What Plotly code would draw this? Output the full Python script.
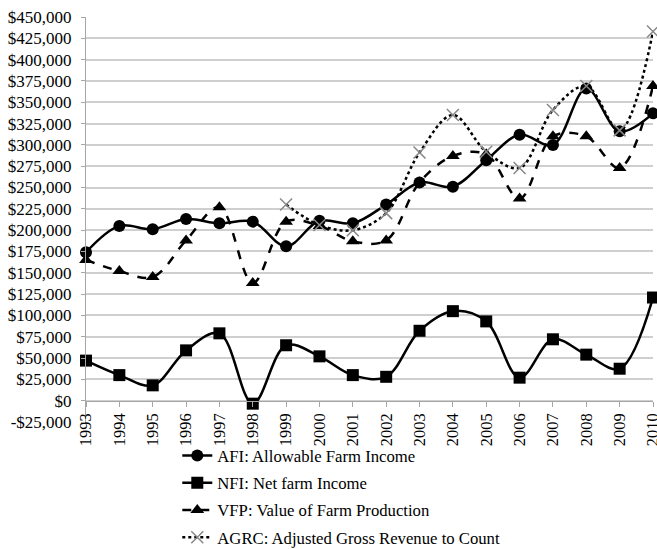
import plotly.graph_objects as go

years = list(range(1993, 2011))
afi = [174000, 205000, 201000, 213000, 208000, 210000, 181000, 211000, 208000, 230000,
       256000, 251000, 282000, 312000, 300000, 366000, 316000, 337000]
nfi = [47000, 30000, 18000, 59000, 79000, -3500, 65000, 52000, 30000, 28000,
       82000, 105000, 93000, 27000, 72000, 54000, 37500, 121000]
vfp = [165000, 152000, 145000, 188000, 227000, 138000, 210000, 205000, 187000, 188000,
       256000, 287000, 289000, 237000, 310000, 310000, 273000, 369000]
agrc = [None, None, None, None, None, None, 230000, 206000, 200000, 220000,
        291000, 335000, 292000, 273000, 341000, 369000, 317000, 433000]

names = ["AFI: Allowable Farm Income", "NFI: Net farm Income",
         "VFP: Value of Farm Production", "AGRC: Adjusted Gross Revenue to Count"]

ytick_vals = list(range(-25000, 450001, 25000))
ytick_text = [("-$" if v < 0 else "$") + f"{abs(v):,}" for v in ytick_vals]

FONT = "Liberation Serif"

fig = go.Figure()
fig.add_trace(go.Scatter(x=years, y=afi, name=names[0], mode="lines+markers",
                         line=dict(color="black", width=2.5, shape="spline"),
                         marker=dict(symbol="circle", size=12, color="black"),
                         cliponaxis=False, legendgroup="a"))
fig.add_trace(go.Scatter(x=years, y=nfi, name=names[1], mode="lines+markers",
                         line=dict(color="black", width=2.5, shape="spline"),
                         marker=dict(symbol="square", size=12, color="black"),
                         cliponaxis=False, legendgroup="b"))
fig.add_trace(go.Scatter(x=years, y=vfp, name=names[2], mode="lines+markers",
                         line=dict(color="black", width=2.5, shape="spline", dash="dash"),
                         marker=dict(symbol="triangle-up", size=12, color="black"),
                         cliponaxis=False, legendgroup="c"))
fig.add_trace(go.Scatter(x=years, y=agrc, name=names[3], mode="lines+markers",
                         line=dict(color="black", width=2.5, shape="spline", dash="dot"),
                         marker=dict(symbol="x-thin-open", size=12, color="#888888",
                                     line=dict(color="#888888", width=1.5)),
                         cliponaxis=False, connectgaps=False, legendgroup="d"))

ymin, ymax = -25000, 450000
fig.update_layout(
    width=657, height=549,
    margin=dict(l=86, r=4, t=17, b=127, autoexpand=False),
    paper_bgcolor="white", plot_bgcolor="white",
    font=dict(family=FONT, size=16, color="black"),
    showlegend=True,
    legend=dict(x=0.161, xanchor="left", y=-0.04, yanchor="top",
                font=dict(family=FONT, size=16.7, color="black"),
                tracegroupgap=2.5, bgcolor="rgba(0,0,0,0)"),
    xaxis=dict(range=[1993, 2010], tickvals=years, ticktext=[str(y) for y in years],
               tickangle=-90, showgrid=False, zeroline=False, automargin=False,
               showline=True, linecolor="#a6a6a6", linewidth=1,
               ticks="outside", ticklen=5, tickcolor="#a6a6a6",
               ticklabeloverflow="allow",
               anchor="free", position=(0 - ymin) / (ymax - ymin),
               tickfont=dict(family=FONT, size=16.5, color="black")),
    yaxis=dict(range=[ymin, ymax], tickvals=ytick_vals, ticktext=ytick_text,
               showgrid=True, gridcolor="#cfcfcf", gridwidth=1.5, zeroline=False,
               automargin=False, ticklabeloverflow="allow",
               showline=True, linecolor="#a6a6a6", linewidth=1,
               ticks="outside", ticklen=4, tickcolor="#a6a6a6", ticklabelstandoff=6,
               tickfont=dict(family=FONT, size=17, color="black")),
)

fig.write_html(
    "out.html",
    config={"displayModeBar": False},
    post_script="document.body.style.margin='0';document.body.style.overflow='hidden';",
)
